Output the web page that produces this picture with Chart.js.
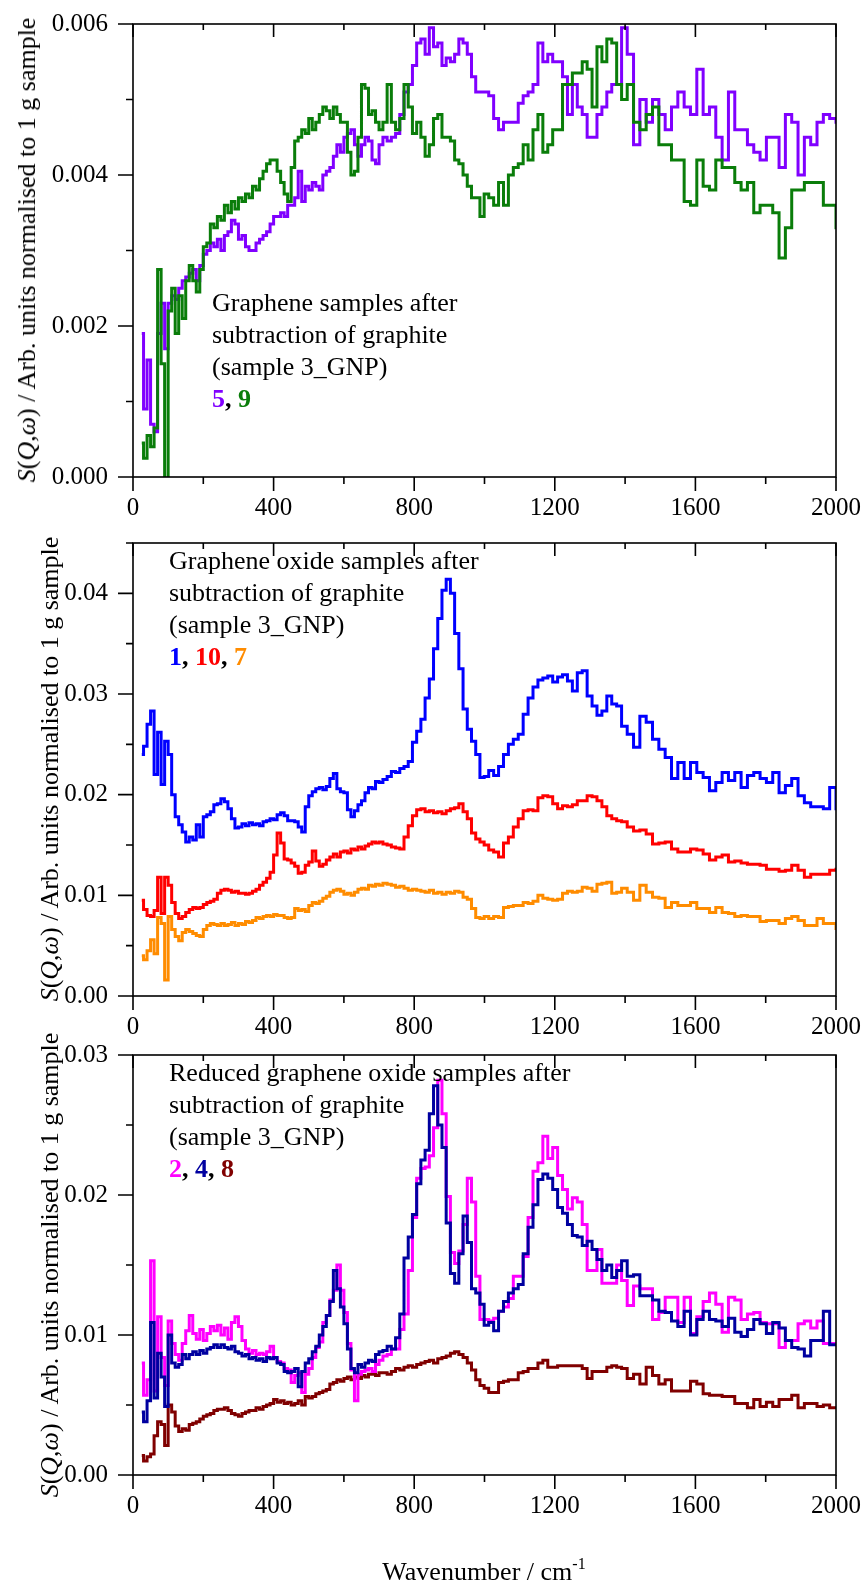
<!DOCTYPE html>
<html>
<head>
<meta charset="utf-8">
<title>S(Q,ω) spectra after subtraction of graphite</title>
<script src="https://cdn.jsdelivr.net/npm/chart.js@4.4.1/dist/chart.umd.min.js"></script>
<style>
  html, body { margin: 0; padding: 0; background: #fff; }
  #page { position: relative; width: 863px; height: 1584px; overflow: hidden;
          font-family: "Liberation Serif", "Times New Roman", serif; color: #000; }
  #page canvas { position: absolute; left: 0; }
  .note { position: absolute; font-size: 26px; line-height: 32px; white-space: nowrap; }
  .note b { font-weight: bold; }
  .ytitle { position: absolute; font-size: 26px; line-height: 1; white-space: nowrap;
            transform: translate(-50%, -50%) rotate(-90deg); }
  .xtitle { position: absolute; font-size: 26px; line-height: 1; white-space: nowrap;
            transform: translate(-50%, -50%); }
  .xtitle sup { font-size: 16px; vertical-align: 11px; line-height: 0; }
</style>
</head>
<body>
<div id="page">
  <canvas id="c1" width="863" height="520" style="top:0px;width:863px;height:520px"></canvas>
  <canvas id="c2" width="863" height="520" style="top:520px;width:863px;height:520px"></canvas>
  <canvas id="c3" width="863" height="544" style="top:1040px;width:863px;height:544px"></canvas>

  <div class="ytitle" style="left:27px;top:250px"><i>S</i>(<i>Q</i>,<i>ω</i>) / Arb. units normalised to 1 g sample</div>
  <div class="ytitle" style="left:50px;top:769px"><i>S</i>(<i>Q</i>,<i>ω</i>) / Arb. units normalised to 1 g sample</div>
  <div class="ytitle" style="left:50px;top:1265px"><i>S</i>(<i>Q</i>,<i>ω</i>) / Arb. units normalised to 1 g sample</div>

  <div class="note" style="left:212px;top:287px">Graphene samples after<br>subtraction of graphite<br>(sample 3_GNP)<br><b><span style="color:#8000ff">5</span>, <span style="color:#0a7d0a">9</span></b></div>
  <div class="note" style="left:169px;top:545px">Graphene oxide samples after<br>subtraction of graphite<br>(sample 3_GNP)<br><b><span style="color:#0000ff">1</span>, <span style="color:#ff0000">10</span>, <span style="color:#ff8c00">7</span></b></div>
  <div class="note" style="left:169px;top:1057px">Reduced graphene oxide samples after<br>subtraction of graphite<br>(sample 3_GNP)<br><b><span style="color:#ff00ff">2</span>, <span style="color:#0000a0">4</span>, <span style="color:#800000">8</span></b></div>

  <div class="xtitle" style="left:484px;top:1572px">Wavenumber / cm<sup>-1</sup></div>
</div>

<script>
// Wavenumber bins (cm-1) shared by every spectrum
const wavenumbers = [
  25,35,45,55,65,75,85,95,105,115,
  125,135,145,155,165,175,185,195,205,215,
  225,235,245,255,265,275,285,295,305,315,
  325,335,345,355,365,375,385,395,405,415,
  425,435,445,455,465,475,485,495,505,515,
  525,535,545,555,565,575,585,595,605,615,
  625,635,645,655,665,675,685,695,705,717,
  729,741,753,765,777,789,801,813,825,837,
  849,861,873,885,897,909,921,933,945,957,
  969,981,993,1005,1019,1033,1047,1061,1075,1089,
  1103,1117,1131,1145,1159,1173,1187,1201,1215,1229,
  1243,1257,1271,1285,1299,1313,1327,1341,1355,1369,
  1383,1397,1415,1433,1451,1469,1487,1505,1523,1541,
  1559,1577,1595,1613,1631,1649,1667,1685,1703,1721,
  1739,1757,1775,1793,1811,1829,1847,1865,1883,1901,
  1919,1937,1955,1973,1991,2009
];

// Graphene samples
const sample5 = [
  0.0019,0.0009,0.00155,0.0007,0.0006,0.0019,0.0023,0.0017,0.0023,0.0024,
  0.00235,0.0025,0.0026,0.00265,0.0027,0.00275,0.0026,0.0028,0.00295,0.0030,
  0.0031,0.00305,0.00315,0.0030,0.0032,0.00325,0.0034,0.00335,0.00315,0.0032,
  0.00305,0.0030,0.0030,0.0031,0.00315,0.0032,0.00325,0.00335,0.00345,0.00345,
  0.0035,0.00345,0.0036,0.0036,0.0037,0.00405,0.00365,0.00385,0.0038,0.0039,
  0.00385,0.0038,0.0040,0.00405,0.0041,0.00425,0.0044,0.0043,0.0045,0.00455,
  0.0046,0.0044,0.00425,0.0044,0.0045,0.00445,0.0042,0.00415,0.0044,0.0045,
  0.00445,0.0045,0.00455,0.0048,0.0051,0.0052,0.00545,0.00575,0.0058,0.0056,
  0.00595,0.0057,0.00575,0.00545,0.00555,0.0055,0.0056,0.0058,0.00575,0.0056,
  0.0053,0.0051,0.0051,0.0051,0.00505,0.00475,0.0046,0.0047,0.0047,0.0047,
  0.00495,0.00505,0.0051,0.0052,0.00575,0.0055,0.0056,0.0055,0.0055,0.0053,
  0.0048,0.0052,0.0049,0.0048,0.0045,0.0045,0.0048,0.0049,0.0051,0.0052,
  0.0052,0.00595,0.0056,0.0044,0.0050,0.0047,0.0050,0.0048,0.0046,0.0049,
  0.0051,0.0049,0.0048,0.0054,0.0048,0.0049,0.0045,0.0042,0.0051,0.0046,
  0.0046,0.0044,0.0043,0.0042,0.0045,0.0045,0.0041,0.0048,0.0047,0.0040,
  0.0045,0.0044,0.0047,0.0048,0.00475,0.0047
];
const sample9 = [
  0.00045,0.00025,0.00055,0.0004,0.00065,0.00275,0.0015,-0.0003,0.0022,0.0025,
  0.0019,0.0024,0.0021,0.0026,0.0028,0.0026,0.00245,0.00275,0.00305,0.0031,
  0.00335,0.0033,0.00345,0.0034,0.0036,0.0035,0.00365,0.00355,0.0037,0.00365,
  0.00375,0.0037,0.00385,0.0038,0.00395,0.00405,0.00415,0.0042,0.0042,0.00405,
  0.0039,0.00375,0.00365,0.0041,0.00445,0.0045,0.0046,0.00455,0.00475,0.0046,
  0.0047,0.0048,0.0049,0.00485,0.00475,0.0049,0.0048,0.0047,0.0047,0.0043,
  0.0040,0.00405,0.0045,0.0052,0.00515,0.0048,0.00485,0.0047,0.0046,0.0047,
  0.0052,0.0047,0.0046,0.00475,0.0052,0.0049,0.00455,0.0047,0.0045,0.00425,
  0.0044,0.00475,0.0048,0.0045,0.0045,0.00445,0.0042,0.00415,0.0040,0.00385,
  0.0037,0.0037,0.00345,0.00375,0.0037,0.0036,0.0039,0.0036,0.0040,0.0041,
  0.00415,0.0044,0.0042,0.0046,0.0048,0.0043,0.0044,0.0046,0.0046,0.0052,
  0.0052,0.00535,0.00535,0.0055,0.0054,0.0049,0.0057,0.0055,0.0058,0.00575,
  0.0052,0.0050,0.0052,0.0047,0.0046,0.0048,0.0049,0.0044,0.0044,0.0042,
  0.0042,0.00365,0.0036,0.0042,0.00385,0.0038,0.0042,0.0041,0.0041,0.0039,
  0.0038,0.0039,0.0035,0.0036,0.0036,0.0035,0.0029,0.0033,0.0038,0.0038,
  0.0039,0.0039,0.0039,0.0036,0.0036,0.0033
];

// Graphene oxide samples
const sample1 = [
  0.0240,0.0248,0.0270,0.0283,0.0220,0.0262,0.0210,0.0253,0.0240,0.0200,
  0.0178,0.0170,0.0163,0.0153,0.0158,0.0155,0.0170,0.0158,0.0178,0.0180,
  0.0183,0.0190,0.0191,0.0196,0.0193,0.0186,0.0176,0.0167,0.0168,0.0171,
  0.0169,0.0172,0.0170,0.0171,0.0169,0.0173,0.0174,0.0176,0.0175,0.0180,
  0.0182,0.0179,0.0174,0.0174,0.0173,0.0168,0.0163,0.0188,0.0199,0.0203,
  0.0206,0.0207,0.0205,0.0208,0.0216,0.0221,0.0206,0.0203,0.0202,0.0185,
  0.0178,0.0184,0.0190,0.0194,0.0202,0.0207,0.0206,0.0213,0.0212,0.0215,
  0.0218,0.0223,0.0222,0.0226,0.0228,0.0233,0.0252,0.0263,0.0275,0.0296,
  0.0315,0.0345,0.0375,0.0403,0.0414,0.0400,0.0360,0.0325,0.0285,0.0265,
  0.0253,0.0240,0.0217,0.0218,0.0224,0.0219,0.0228,0.0240,0.0250,0.0255,
  0.0260,0.0280,0.0296,0.0307,0.0314,0.0316,0.0318,0.0312,0.0317,0.0319,
  0.0313,0.0303,0.0321,0.0323,0.0298,0.0288,0.0279,0.0283,0.0298,0.0290,
  0.0288,0.0268,0.0260,0.0247,0.0278,0.0272,0.0255,0.0245,0.0237,0.0216,
  0.0232,0.0216,0.0232,0.0222,0.0217,0.0204,0.0212,0.0222,0.0214,0.0222,
  0.0207,0.0219,0.0222,0.0216,0.0212,0.0222,0.0202,0.0209,0.0216,0.0199,
  0.0192,0.0188,0.0188,0.0186,0.0207,0.0186
];
const sample10 = [
  0.0095,0.0086,0.0080,0.0079,0.0085,0.0118,0.0082,0.0118,0.0110,0.0093,
  0.0082,0.0077,0.0079,0.0083,0.0086,0.0088,0.0087,0.0088,0.0091,0.0093,
  0.0094,0.0096,0.0102,0.0105,0.0106,0.0105,0.0103,0.0104,0.0102,0.0102,
  0.0101,0.0102,0.0104,0.0106,0.0110,0.0113,0.0117,0.0123,0.0140,0.0162,
  0.0152,0.0136,0.0135,0.0132,0.0129,0.0122,0.0123,0.0130,0.0133,0.0144,
  0.0134,0.0129,0.0131,0.0135,0.0138,0.0141,0.0138,0.0143,0.0144,0.0142,
  0.0146,0.0145,0.0148,0.0146,0.0149,0.0151,0.0153,0.0152,0.0153,0.0151,
  0.0150,0.0148,0.0147,0.0146,0.0158,0.0169,0.0179,0.0185,0.0186,0.0183,
  0.0184,0.0182,0.0183,0.0181,0.0184,0.0186,0.0187,0.0191,0.0183,0.0176,
  0.0162,0.0156,0.0153,0.0150,0.0145,0.0143,0.0138,0.0152,0.0158,0.0168,
  0.0176,0.0184,0.0185,0.0184,0.0197,0.0199,0.0198,0.0191,0.0186,0.0189,
  0.0188,0.0190,0.0194,0.0194,0.0199,0.0198,0.0194,0.0188,0.0179,0.0176,
  0.0174,0.0173,0.0168,0.0164,0.0165,0.0161,0.0151,0.0152,0.0153,0.0146,
  0.0143,0.0143,0.0146,0.0145,0.0141,0.0135,0.0138,0.0140,0.0133,0.0134,
  0.0132,0.0131,0.0131,0.0130,0.0126,0.0126,0.0124,0.0125,0.0130,0.0125,
  0.0118,0.0121,0.0121,0.0121,0.0125,0.0126
];
const sample7 = [
  0.0040,0.0036,0.0045,0.0056,0.0042,0.0078,0.0072,0.0016,0.0079,0.0066,
  0.0059,0.0055,0.0063,0.0066,0.0064,0.0062,0.0060,0.0059,0.0066,0.0070,
  0.0072,0.0071,0.0070,0.0072,0.0070,0.0071,0.0073,0.0070,0.0072,0.0071,
  0.0074,0.0073,0.0075,0.0078,0.0077,0.0079,0.0080,0.0079,0.0081,0.0080,
  0.0080,0.0078,0.0077,0.0078,0.0087,0.0085,0.0086,0.0084,0.0090,0.0093,
  0.0092,0.0094,0.0097,0.0099,0.0103,0.0105,0.0106,0.0104,0.0101,0.0102,
  0.0100,0.0103,0.0106,0.0107,0.0106,0.0110,0.0109,0.0111,0.0110,0.0112,
  0.0111,0.0110,0.0108,0.0109,0.0107,0.0105,0.0106,0.0105,0.0104,0.0103,
  0.0105,0.0102,0.0103,0.0101,0.0103,0.0102,0.0104,0.0103,0.0098,0.0096,
  0.0087,0.0078,0.0077,0.0079,0.0077,0.0079,0.0078,0.0088,0.0089,0.0090,
  0.0090,0.0093,0.0092,0.0094,0.0100,0.0097,0.0096,0.0095,0.0096,0.0102,
  0.0104,0.0103,0.0104,0.0108,0.0107,0.0104,0.0111,0.0112,0.0113,0.0102,
  0.0103,0.0107,0.0103,0.0095,0.0110,0.0103,0.0098,0.0097,0.0088,0.0093,
  0.0090,0.0090,0.0093,0.0087,0.0087,0.0083,0.0088,0.0083,0.0082,0.0079,
  0.0080,0.0079,0.0079,0.0074,0.0075,0.0075,0.0072,0.0077,0.0079,0.0075,
  0.0070,0.0070,0.0077,0.0072,0.0072,0.0067
];

// Reduced graphene oxide samples
const sample2 = [
  0.0080,0.0057,0.0068,0.0153,0.0060,0.0113,0.0084,0.0064,0.0110,0.0094,
  0.0086,0.0082,0.0094,0.0103,0.0114,0.0101,0.0097,0.0104,0.0096,0.0101,
  0.0106,0.0103,0.0107,0.0100,0.0105,0.0097,0.0109,0.0113,0.0106,0.0096,
  0.0090,0.0087,0.0089,0.0086,0.0087,0.0086,0.0088,0.0092,0.0084,0.0081,
  0.0080,0.0076,0.0075,0.0066,0.0071,0.0073,0.0059,0.0072,0.0076,0.0084,
  0.0091,0.0095,0.0109,0.0114,0.0125,0.0132,0.0150,0.0132,0.0116,0.0094,
  0.0075,0.0053,0.0072,0.0074,0.0075,0.0076,0.0074,0.0079,0.0082,0.0085,
  0.0086,0.0090,0.0090,0.0104,0.0115,0.0146,0.0184,0.0212,0.0219,0.0220,
  0.0228,0.0248,0.0282,0.0258,0.0199,0.0159,0.0151,0.0160,0.0179,0.0212,
  0.0195,0.0142,0.0111,0.0111,0.0110,0.0112,0.0117,0.0120,0.0126,0.0142,
  0.0142,0.0156,0.0184,0.0217,0.0223,0.0242,0.0226,0.0234,0.0214,0.0204,
  0.0190,0.0198,0.0195,0.0179,0.0146,0.0146,0.0161,0.0137,0.0137,0.0137,
  0.0150,0.0139,0.0121,0.0135,0.0133,0.0133,0.0111,0.0116,0.0127,0.0127,
  0.0109,0.0127,0.0101,0.0113,0.0124,0.0130,0.0122,0.0102,0.0127,0.0125,
  0.0111,0.0115,0.0116,0.0109,0.0108,0.0108,0.0091,0.0096,0.0096,0.0108,
  0.0110,0.0105,0.0110,0.0094,0.0094,0.0094
];
const sample4 = [
  0.0045,0.0038,0.0053,0.0109,0.0055,0.0087,0.0070,0.0049,0.0100,0.0080,
  0.0077,0.0079,0.0086,0.0083,0.0086,0.0088,0.0086,0.0089,0.0087,0.0090,
  0.0091,0.0093,0.0091,0.0093,0.0091,0.0090,0.0092,0.0088,0.0087,0.0085,
  0.0086,0.0083,0.0084,0.0082,0.0083,0.0081,0.0084,0.0083,0.0084,0.0080,
  0.0079,0.0074,0.0073,0.0074,0.0076,0.0063,0.0074,0.0080,0.0083,0.0088,
  0.0092,0.0100,0.0106,0.0114,0.0124,0.0146,0.0133,0.0120,0.0108,0.0090,
  0.0076,0.0073,0.0079,0.0077,0.0080,0.0082,0.0081,0.0086,0.0088,0.0089,
  0.0092,0.0090,0.0098,0.0115,0.0155,0.0170,0.0186,0.0208,0.0225,0.0232,
  0.0258,0.0278,0.0250,0.0234,0.0180,0.0144,0.0137,0.0158,0.0185,0.0166,
  0.0133,0.0130,0.0122,0.0107,0.0109,0.0103,0.0117,0.0124,0.0130,0.0133,
  0.0136,0.0158,0.0177,0.0193,0.0211,0.0215,0.0212,0.0204,0.0191,0.0187,
  0.0179,0.0171,0.0170,0.0164,0.0167,0.0161,0.0154,0.0146,0.0150,0.0141,
  0.0146,0.0153,0.0142,0.0143,0.0128,0.0128,0.0125,0.0117,0.0116,0.0110,
  0.0106,0.0117,0.0100,0.0111,0.0117,0.0111,0.0110,0.0106,0.0112,0.0102,
  0.0099,0.0104,0.0111,0.0108,0.0101,0.0109,0.0105,0.0096,0.0091,0.0090,
  0.0085,0.0096,0.0096,0.0117,0.0093,0.0093
];
const sample8 = [
  0.0014,0.0010,0.0013,0.0015,0.0028,0.0038,0.0036,0.0021,0.0050,0.0045,
  0.0035,0.0031,0.0033,0.0032,0.0036,0.0037,0.0038,0.0040,0.0042,0.0043,
  0.0044,0.0046,0.0047,0.0047,0.0048,0.0046,0.0044,0.0043,0.0042,0.0044,
  0.0045,0.0046,0.0046,0.0048,0.0047,0.0049,0.0050,0.0051,0.0054,0.0052,
  0.0053,0.0051,0.0052,0.0050,0.0051,0.0053,0.0050,0.0056,0.0055,0.0056,
  0.0058,0.0059,0.0060,0.0061,0.0065,0.0066,0.0068,0.0067,0.0069,0.0070,
  0.0068,0.0070,0.0069,0.0071,0.0070,0.0072,0.0072,0.0071,0.0073,0.0073,
  0.0072,0.0074,0.0076,0.0075,0.0077,0.0078,0.0077,0.0079,0.0080,0.0081,
  0.0082,0.0080,0.0083,0.0084,0.0085,0.0087,0.0088,0.0086,0.0084,0.0080,
  0.0075,0.0068,0.0064,0.0062,0.0059,0.0059,0.0066,0.0067,0.0068,0.0068,
  0.0073,0.0074,0.0076,0.0076,0.0080,0.0082,0.0077,0.0077,0.0078,0.0078,
  0.0078,0.0078,0.0078,0.0076,0.0069,0.0074,0.0074,0.0074,0.0077,0.0078,
  0.0077,0.0076,0.0069,0.0072,0.0065,0.0077,0.0071,0.0065,0.0068,0.0060,
  0.0060,0.0060,0.0067,0.0065,0.0058,0.0057,0.0057,0.0056,0.0056,0.0051,
  0.0051,0.0048,0.0054,0.0049,0.0052,0.0049,0.0054,0.0054,0.0057,0.0048,
  0.0051,0.0051,0.0049,0.0050,0.0048,0.0048
];

// Axis settings
const xRange = [0, 2000];
const xMinorStep = 200, xMajorStep = 400;
const panel1Y = { max: 0.006, minor: 0.001, decimals: 3 };
const panel2Y = { max: 0.045, minor: 0.005, decimals: 2 };
const panel3Y = { max: 0.03,  minor: 0.005, decimals: 2 };

const FONT = '"Liberation Serif", "Times New Roman", serif';

// Box frame with outward ticks on the left/bottom and inward ticks on top
const frameTicks = {
  id: 'frameTicks',
  afterDraw(chart, args, opts) {
    const { ctx, chartArea: a, scales: { x, y } } = chart;
    ctx.save();
    ctx.strokeStyle = '#000';
    ctx.lineWidth = 1.6;
    ctx.strokeRect(a.left, a.top, a.right - a.left, a.bottom - a.top);
    ctx.beginPath();
    x.ticks.forEach(t => {
      const px = x.getPixelForValue(t.value);
      const major = Math.round(t.value) % xMajorStep === 0;
      ctx.moveTo(px, a.bottom); ctx.lineTo(px, a.bottom + (major ? 14 : 7));
      ctx.moveTo(px, a.top);    ctx.lineTo(px, a.top + (major ? 13 : 6));
    });
    y.ticks.forEach(t => {
      const py = y.getPixelForValue(t.value);
      const major = Math.round(t.value / opts.minor) % 2 === 0;
      ctx.moveTo(a.left, py); ctx.lineTo(a.left - (major ? 15 : 7), py);
    });
    ctx.stroke();
    ctx.restore();
  }
};

function series(values, color) {
  return {
    data: wavenumbers.map((w, i) => ({ x: w, y: values[i] })),
    borderColor: color,
    borderWidth: 3,
    stepped: 'middle',
    pointRadius: 0,
    fill: false,
    borderJoinStyle: 'miter',
    borderCapStyle: 'butt'
  };
}

function panel(canvasId, datasets, yCfg, padTop, xBoxHeight) {
  const canvas = document.getElementById(canvasId);
  return new Chart(canvas, {
    type: 'line',
    data: { datasets },
    options: {
      responsive: false,
      maintainAspectRatio: false,
      animation: false,
      events: [],
      layout: { padding: { left: 0, right: 27, top: padTop, bottom: 0 } },
      plugins: {
        legend: { display: false },
        tooltip: { enabled: false },
        frameTicks: { minor: yCfg.minor }
      },
      scales: {
        x: {
          type: 'linear',
          min: xRange[0], max: xRange[1],
          grid: { display: false, drawTicks: false },
          border: { display: false },
          ticks: {
            stepSize: xMinorStep,
            autoSkip: false,
            maxRotation: 0,
            includeBounds: false,
            padding: 16,
            color: '#000',
            font: { family: FONT, size: 25 },
            callback: v => (Math.round(v) % xMajorStep === 0 ? String(Math.round(v)) : '')
          },
          afterFit(s) { s.height = xBoxHeight; s.paddingLeft = 0; s.paddingRight = 0; }
        },
        y: {
          type: 'linear',
          min: 0, max: yCfg.max,
          grid: { display: false, drawTicks: false },
          border: { display: false },
          ticks: {
            stepSize: yCfg.minor,
            autoSkip: false,
            includeBounds: false,
            maxTicksLimit: 50,
            padding: 25,
            color: '#000',
            font: { family: FONT, size: 25 },
            callback: v => (Math.round(v / yCfg.minor) % 2 === 0 ? v.toFixed(yCfg.decimals) : '')
          },
          afterFit(s) { s.width = 133; s.paddingTop = 0; s.paddingBottom = 0; }
        }
      }
    },
    plugins: [frameTicks]
  });
}

panel('c1', [
  series(sample9, '#0a7d0a'),
  series(sample5, '#8000ff')
], panel1Y, 24, 43);

panel('c2', [
  series(sample1, '#0000ff'),
  series(sample10, '#ff0000'),
  series(sample7, '#ff8c00')
], panel2Y, 23, 44);

panel('c3', [
  series(sample4, '#0000a0'),
  series(sample2, '#ff00ff'),
  series(sample8, '#800000')
], panel3Y, 15, 109);
</script>
</body>
</html>
